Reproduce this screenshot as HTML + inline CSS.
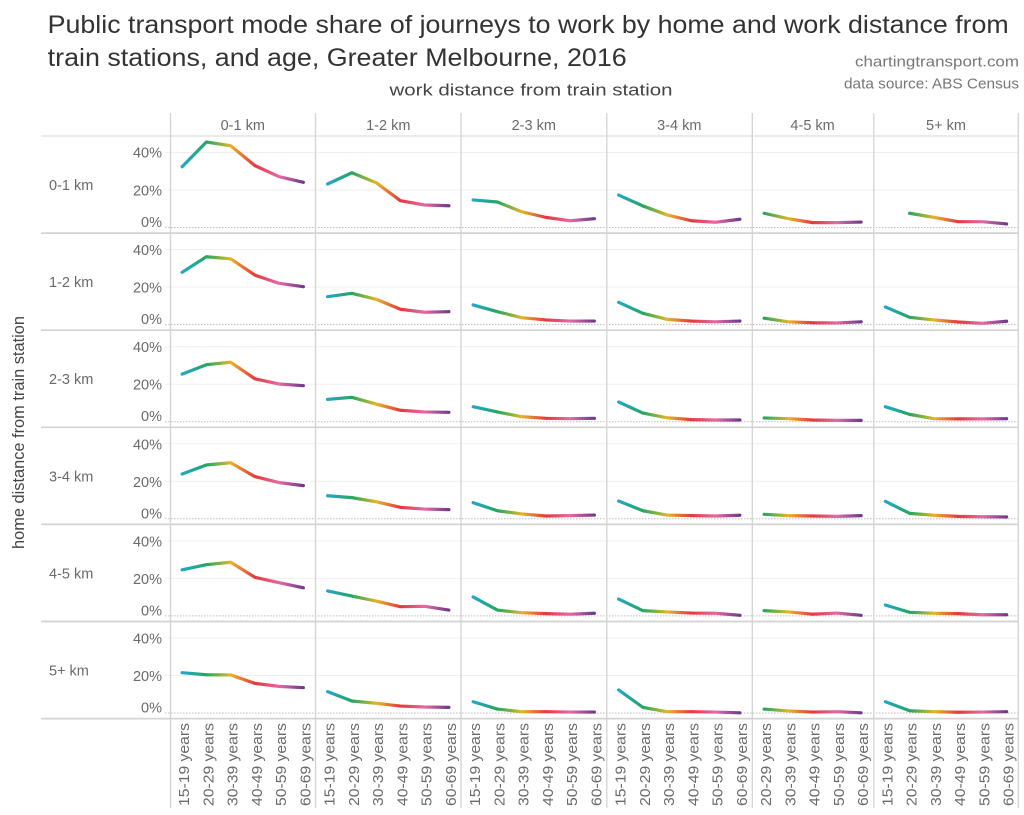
<!DOCTYPE html>
<html>
<head>
<meta charset="utf-8">
<style>
  html,body{margin:0;padding:0;background:#fff;}
  svg{display:block;}
  text{font-family:"Liberation Sans",sans-serif;}
  .t{fill:#333;font-size:25px;}
  .s{fill:#777;font-size:15px;}
  .ax{fill:#444;font-size:17px;}
  .tk{fill:#6a6a6a;font-size:14.5px;}
  .xl{fill:#6a6a6a;font-size:15px;}
  .ln{fill:none;stroke:url(#rg);stroke-width:3.2;stroke-linecap:round;stroke-linejoin:round;vector-effect:non-scaling-stroke;}
</style>
</head>
<body>
<svg width="1024" height="815" viewBox="0 0 1024 815" xmlns="http://www.w3.org/2000/svg">
<defs>
  <linearGradient id="rg" gradientUnits="userSpaceOnUse" x1="0" y1="0" x2="5" y2="0">
    <stop offset="0" stop-color="#1fa8cc"/>
    <stop offset="0.2" stop-color="#27a65e"/>
    <stop offset="0.32" stop-color="#8db23a"/>
    <stop offset="0.4" stop-color="#eab22a"/>
    <stop offset="0.6" stop-color="#e5383e"/>
    <stop offset="0.8" stop-color="#e46aa6"/>
    <stop offset="1" stop-color="#6c3b8b"/>
  </linearGradient>
</defs>

<!-- Titles -->
<text class="t" x="47.7" y="33" textLength="961" lengthAdjust="spacingAndGlyphs">Public transport mode share of journeys to work by home and work distance from</text>
<text class="t" x="47.7" y="66" textLength="579" lengthAdjust="spacingAndGlyphs">train stations, and age, Greater Melbourne, 2016</text>
<text class="s" x="1019" y="66.5" text-anchor="end" textLength="164" lengthAdjust="spacingAndGlyphs">chartingtransport.com</text>
<text class="s" x="1019" y="88.3" text-anchor="end" textLength="175" lengthAdjust="spacingAndGlyphs">data source: ABS Census</text>
<text class="ax" x="389.5" y="95.5" textLength="283" lengthAdjust="spacingAndGlyphs">work distance from train station</text>
<text class="ax" transform="translate(24,549) rotate(-90)" textLength="233" lengthAdjust="spacingAndGlyphs">home distance from train station</text>

<!-- gridlines -->
<g stroke="#efefef" stroke-width="1">
  <line x1="165" x2="1018" y1="152.5" y2="152.5"/><line x1="165" x2="1018" y1="190" y2="190"/>
  <line x1="165" x2="1018" y1="249.6" y2="249.6"/><line x1="165" x2="1018" y1="287.1" y2="287.1"/>
  <line x1="165" x2="1018" y1="346.7" y2="346.7"/><line x1="165" x2="1018" y1="384.2" y2="384.2"/>
  <line x1="165" x2="1018" y1="443.8" y2="443.8"/><line x1="165" x2="1018" y1="481.3" y2="481.3"/>
  <line x1="165" x2="1018" y1="540.9" y2="540.9"/><line x1="165" x2="1018" y1="578.4" y2="578.4"/>
  <line x1="165" x2="1018" y1="638" y2="638"/><line x1="165" x2="1018" y1="675.5" y2="675.5"/>
</g>
<!-- zero lines dotted -->
<g stroke="#bdbdbd" stroke-width="1" stroke-dasharray="1.5,1.5">
  <line x1="165" x2="1018" y1="227.5" y2="227.5"/>
  <line x1="165" x2="1018" y1="324.6" y2="324.6"/>
  <line x1="165" x2="1018" y1="421.7" y2="421.7"/>
  <line x1="165" x2="1018" y1="518.8" y2="518.8"/>
  <line x1="165" x2="1018" y1="615.9" y2="615.9"/>
  <line x1="165" x2="1018" y1="713" y2="713"/>
</g>
<!-- row separators -->
<line x1="41" x2="1019" y1="136" y2="136" stroke="#e4e4e4" stroke-width="1.5"/>
<g stroke="#d3d3d3" stroke-width="1.7">
  <line x1="41" x2="1019" y1="233.1" y2="233.1"/>
  <line x1="41" x2="1019" y1="330.2" y2="330.2"/>
  <line x1="41" x2="1019" y1="427.3" y2="427.3"/>
  <line x1="41" x2="1019" y1="524.4" y2="524.4"/>
  <line x1="41" x2="1019" y1="621.5" y2="621.5"/>
  <line x1="41" x2="1019" y1="718.6" y2="718.6"/>
</g>
<!-- column separators -->
<g stroke="#d3d3d3" stroke-width="1.3">
  <line x1="170.5" x2="170.5" y1="113" y2="808"/>
  <line x1="315.5" x2="315.5" y1="113" y2="808"/>
  <line x1="461" x2="461" y1="113" y2="808"/>
  <line x1="606.8" x2="606.8" y1="113" y2="808"/>
  <line x1="752.3" x2="752.3" y1="113" y2="808"/>
  <line x1="873.8" x2="873.8" y1="113" y2="808"/>
  <line x1="1018.3" x2="1018.3" y1="113" y2="808"/>
</g>

<!-- column headers -->
<g class="tk" text-anchor="middle">
  <text x="242.75" y="130">0-1 km</text>
  <text x="388.25" y="130">1-2 km</text>
  <text x="533.75" y="130">2-3 km</text>
  <text x="679.25" y="130">3-4 km</text>
  <text x="812.6" y="130">4-5 km</text>
  <text x="946" y="130">5+ km</text>
</g>

<!-- row labels -->
<g class="tk">
  <text x="49" y="190">0-1 km</text>
  <text x="49" y="287.1">1-2 km</text>
  <text x="49" y="384.2">2-3 km</text>
  <text x="49" y="481.3">3-4 km</text>
  <text x="49" y="578.4">4-5 km</text>
  <text x="49" y="675.5">5+ km</text>
</g>

<!-- y tick labels -->
<g class="tk" text-anchor="end">
  <text x="162" y="157.5">40%</text><text x="162" y="195.5">20%</text><text x="162" y="227">0%</text>
  <text x="162" y="255.1">40%</text><text x="162" y="292.6">20%</text><text x="162" y="324.1">0%</text>
  <text x="162" y="352.2">40%</text><text x="162" y="389.7">20%</text><text x="162" y="421.2">0%</text>
  <text x="162" y="449.3">40%</text><text x="162" y="486.8">20%</text><text x="162" y="518.3">0%</text>
  <text x="162" y="546.4">40%</text><text x="162" y="583.9">20%</text><text x="162" y="615.4">0%</text>
  <text x="162" y="643.5">40%</text><text x="162" y="681">20%</text><text x="162" y="712.5">0%</text>
</g>

<!-- x axis labels -->
<g class="xl" text-anchor="end">
  <text transform="translate(189.1,723) rotate(-90)" textLength="83" lengthAdjust="spacingAndGlyphs">15-19 years</text>
  <text transform="translate(213.4,723) rotate(-90)" textLength="83" lengthAdjust="spacingAndGlyphs">20-29 years</text>
  <text transform="translate(237.6,723) rotate(-90)" textLength="83" lengthAdjust="spacingAndGlyphs">30-39 years</text>
  <text transform="translate(261.9,723) rotate(-90)" textLength="83" lengthAdjust="spacingAndGlyphs">40-49 years</text>
  <text transform="translate(286.1,723) rotate(-90)" textLength="83" lengthAdjust="spacingAndGlyphs">50-59 years</text>
  <text transform="translate(310.4,723) rotate(-90)" textLength="83" lengthAdjust="spacingAndGlyphs">60-69 years</text>

  <text transform="translate(334.6,723) rotate(-90)" textLength="83" lengthAdjust="spacingAndGlyphs">15-19 years</text>
  <text transform="translate(358.9,723) rotate(-90)" textLength="83" lengthAdjust="spacingAndGlyphs">20-29 years</text>
  <text transform="translate(383.1,723) rotate(-90)" textLength="83" lengthAdjust="spacingAndGlyphs">30-39 years</text>
  <text transform="translate(407.4,723) rotate(-90)" textLength="83" lengthAdjust="spacingAndGlyphs">40-49 years</text>
  <text transform="translate(431.6,723) rotate(-90)" textLength="83" lengthAdjust="spacingAndGlyphs">50-59 years</text>
  <text transform="translate(455.9,723) rotate(-90)" textLength="83" lengthAdjust="spacingAndGlyphs">60-69 years</text>

  <text transform="translate(480.1,723) rotate(-90)" textLength="83" lengthAdjust="spacingAndGlyphs">15-19 years</text>
  <text transform="translate(504.4,723) rotate(-90)" textLength="83" lengthAdjust="spacingAndGlyphs">20-29 years</text>
  <text transform="translate(528.6,723) rotate(-90)" textLength="83" lengthAdjust="spacingAndGlyphs">30-39 years</text>
  <text transform="translate(552.9,723) rotate(-90)" textLength="83" lengthAdjust="spacingAndGlyphs">40-49 years</text>
  <text transform="translate(577.1,723) rotate(-90)" textLength="83" lengthAdjust="spacingAndGlyphs">50-59 years</text>
  <text transform="translate(601.4,723) rotate(-90)" textLength="83" lengthAdjust="spacingAndGlyphs">60-69 years</text>

  <text transform="translate(625.6,723) rotate(-90)" textLength="83" lengthAdjust="spacingAndGlyphs">15-19 years</text>
  <text transform="translate(649.9,723) rotate(-90)" textLength="83" lengthAdjust="spacingAndGlyphs">20-29 years</text>
  <text transform="translate(674.1,723) rotate(-90)" textLength="83" lengthAdjust="spacingAndGlyphs">30-39 years</text>
  <text transform="translate(698.4,723) rotate(-90)" textLength="83" lengthAdjust="spacingAndGlyphs">40-49 years</text>
  <text transform="translate(722.6,723) rotate(-90)" textLength="83" lengthAdjust="spacingAndGlyphs">50-59 years</text>
  <text transform="translate(746.9,723) rotate(-90)" textLength="83" lengthAdjust="spacingAndGlyphs">60-69 years</text>

  <text transform="translate(771.1,723) rotate(-90)" textLength="83" lengthAdjust="spacingAndGlyphs">20-29 years</text>
  <text transform="translate(795.4,723) rotate(-90)" textLength="83" lengthAdjust="spacingAndGlyphs">30-39 years</text>
  <text transform="translate(819.6,723) rotate(-90)" textLength="83" lengthAdjust="spacingAndGlyphs">40-49 years</text>
  <text transform="translate(843.9,723) rotate(-90)" textLength="83" lengthAdjust="spacingAndGlyphs">50-59 years</text>
  <text transform="translate(868.1,723) rotate(-90)" textLength="83" lengthAdjust="spacingAndGlyphs">60-69 years</text>

  <text transform="translate(892.4,723) rotate(-90)" textLength="83" lengthAdjust="spacingAndGlyphs">15-19 years</text>
  <text transform="translate(916.6,723) rotate(-90)" textLength="83" lengthAdjust="spacingAndGlyphs">20-29 years</text>
  <text transform="translate(940.9,723) rotate(-90)" textLength="83" lengthAdjust="spacingAndGlyphs">30-39 years</text>
  <text transform="translate(965.1,723) rotate(-90)" textLength="83" lengthAdjust="spacingAndGlyphs">40-49 years</text>
  <text transform="translate(989.4,723) rotate(-90)" textLength="83" lengthAdjust="spacingAndGlyphs">50-59 years</text>
  <text transform="translate(1013.6,723) rotate(-90)" textLength="83" lengthAdjust="spacingAndGlyphs">60-69 years</text>
</g>

<!-- data lines: Row 0 (home 0-1 km), zero y=227.5 -->
<g transform="translate(182.125,227.5) scale(24.25,-1.875)"><polyline class="ln" points="0,32.4 1,45.6 2,43.6 3,33.0 4,27.1 5,24.1"/></g>
<g transform="translate(327.625,227.5) scale(24.25,-1.875)"><polyline class="ln" points="0,23.2 1,29.2 2,23.9 3,14.3 4,12.0 5,11.6"/></g>
<g transform="translate(473.125,227.5) scale(24.25,-1.875)"><polyline class="ln" points="0,14.7 1,13.6 2,8.4 3,5.4 4,3.6 5,4.7"/></g>
<g transform="translate(618.625,227.5) scale(24.25,-1.875)"><polyline class="ln" points="0,17.3 1,11.5 2,6.7 3,3.6 4,2.8 5,4.4"/></g>
<g transform="translate(739.875,227.5) scale(24.25,-1.875)"><polyline class="ln" points="1,7.6 2,4.7 3,2.6 4,2.6 5,2.9"/></g>
<g transform="translate(885.375,227.5) scale(24.25,-1.875)"><polyline class="ln" points="1,7.6 2,5.4 3,3.1 4,3.1 5,1.9"/></g>

<!-- Row 1, zero y=324.6 -->
<g transform="translate(182.125,324.6) scale(24.25,-1.875)"><polyline class="ln" points="0,27.9 1,36.2 2,35.1 3,26.4 4,22.0 5,20.2"/></g>
<g transform="translate(327.625,324.6) scale(24.25,-1.875)"><polyline class="ln" points="0,14.9 1,16.7 2,13.5 3,8.2 4,6.6 5,6.9"/></g>
<g transform="translate(473.125,324.6) scale(24.25,-1.875)"><polyline class="ln" points="0,10.5 1,6.9 2,3.7 3,2.5 4,1.9 5,1.9"/></g>
<g transform="translate(618.625,324.6) scale(24.25,-1.875)"><polyline class="ln" points="0,11.9 1,6.0 2,2.8 3,1.9 4,1.5 5,1.9"/></g>
<g transform="translate(739.875,324.6) scale(24.25,-1.875)"><polyline class="ln" points="1,3.4 2,1.5 3,1.0 4,0.9 5,1.5"/></g>
<g transform="translate(885.375,324.6) scale(24.25,-1.875)"><polyline class="ln" points="0,9.4 1,3.9 2,2.5 3,1.4 4,0.7 5,1.8"/></g>

<!-- Row 2, zero y=421.7 -->
<g transform="translate(182.125,421.7) scale(24.25,-1.875)"><polyline class="ln" points="0,25.4 1,30.4 2,31.7 3,22.9 4,20.1 5,19.2"/></g>
<g transform="translate(327.625,421.7) scale(24.25,-1.875)"><polyline class="ln" points="0,11.9 1,13.0 2,9.4 3,6.1 4,5.2 5,5.0"/></g>
<g transform="translate(473.125,421.7) scale(24.25,-1.875)"><polyline class="ln" points="0,8.0 1,5.2 2,2.7 3,1.8 4,1.6 5,1.8"/></g>
<g transform="translate(618.625,421.7) scale(24.25,-1.875)"><polyline class="ln" points="0,10.5 1,4.6 2,2.1 3,1.1 4,0.9 5,0.9"/></g>
<g transform="translate(739.875,421.7) scale(24.25,-1.875)"><polyline class="ln" points="1,2.0 2,1.6 3,0.9 4,0.7 5,0.7"/></g>
<g transform="translate(885.375,421.7) scale(24.25,-1.875)"><polyline class="ln" points="0,8.0 1,3.9 2,1.6 3,1.5 4,1.5 5,1.6"/></g>

<!-- Row 3, zero y=518.8 -->
<g transform="translate(182.125,518.8) scale(24.25,-1.875)"><polyline class="ln" points="0,23.9 1,28.7 2,29.9 3,22.5 4,19.3 5,17.7"/></g>
<g transform="translate(327.625,518.8) scale(24.25,-1.875)"><polyline class="ln" points="0,12.3 1,11.3 2,9.1 3,6.1 4,5.2 5,4.9"/></g>
<g transform="translate(473.125,518.8) scale(24.25,-1.875)"><polyline class="ln" points="0,8.6 1,4.3 2,2.6 3,1.5 4,1.7 5,2.0"/></g>
<g transform="translate(618.625,518.8) scale(24.25,-1.875)"><polyline class="ln" points="0,9.5 1,4.3 2,2.0 3,1.7 4,1.5 5,1.9"/></g>
<g transform="translate(739.875,518.8) scale(24.25,-1.875)"><polyline class="ln" points="1,2.4 2,1.7 3,1.5 4,1.3 5,1.7"/></g>
<g transform="translate(885.375,518.8) scale(24.25,-1.875)"><polyline class="ln" points="0,9.3 1,2.9 2,1.9 3,1.3 4,1.1 5,1.0"/></g>

<!-- Row 4, zero y=615.9 -->
<g transform="translate(182.125,615.9) scale(24.25,-1.875)"><polyline class="ln" points="0,24.6 1,27.3 2,28.6 3,20.6 4,17.7 5,15.0"/></g>
<g transform="translate(327.625,615.9) scale(24.25,-1.875)"><polyline class="ln" points="0,13.3 1,10.6 2,7.9 3,4.9 4,5.1 5,3.1"/></g>
<g transform="translate(473.125,615.9) scale(24.25,-1.875)"><polyline class="ln" points="0,10.1 1,3.1 2,1.7 3,1.2 4,0.9 5,1.4"/></g>
<g transform="translate(618.625,615.9) scale(24.25,-1.875)"><polyline class="ln" points="0,9.0 1,2.8 2,2.1 3,1.5 4,1.4 5,0.3"/></g>
<g transform="translate(739.875,615.9) scale(24.25,-1.875)"><polyline class="ln" points="1,2.8 2,2.1 3,0.9 4,1.5 5,0.3"/></g>
<g transform="translate(885.375,615.9) scale(24.25,-1.875)"><polyline class="ln" points="0,5.8 1,1.9 2,1.4 3,1.2 4,0.6 5,0.6"/></g>

<!-- Row 5, zero y=713 -->
<g transform="translate(182.125,713) scale(24.25,-1.875)"><polyline class="ln" points="0,21.5 1,20.4 2,20.3 3,15.8 4,14.2 5,13.5"/></g>
<g transform="translate(327.625,713) scale(24.25,-1.875)"><polyline class="ln" points="0,11.4 1,6.4 2,5.2 3,3.7 4,3.2 5,3.0"/></g>
<g transform="translate(473.125,713) scale(24.25,-1.875)"><polyline class="ln" points="0,6.0 1,2.1 2,0.7 3,0.7 4,0.5 5,0.5"/></g>
<g transform="translate(618.625,713) scale(24.25,-1.875)"><polyline class="ln" points="0,12.3 1,3.0 2,0.7 3,0.7 4,0.5 5,0.1"/></g>
<g transform="translate(739.875,713) scale(24.25,-1.875)"><polyline class="ln" points="1,2.1 2,1.1 3,0.5 4,0.7 5,0.1"/></g>
<g transform="translate(885.375,713) scale(24.25,-1.875)"><polyline class="ln" points="0,6.0 1,1.2 2,0.7 3,0.4 4,0.5 5,0.7"/></g>
</svg>
</body>
</html>
